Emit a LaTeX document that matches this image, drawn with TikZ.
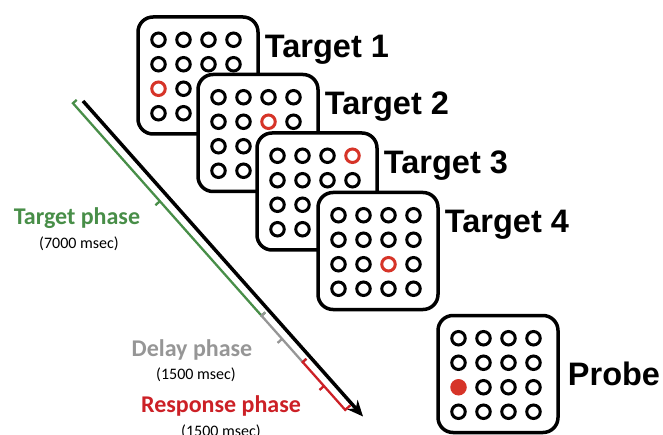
\documentclass[tikz,border=0pt]{standalone}
\usepackage{fontspec}
\setmainfont{Liberation Sans}
\newfontfamily\phasefont{Carlito}
\usetikzlibrary{arrows.meta,calc}
\definecolor{tgreen}{RGB}{72,142,72}
\definecolor{tgray}{RGB}{150,150,150}
\definecolor{tred}{RGB}{204,32,38}
\definecolor{dotred}{RGB}{214,52,40}
\tikzset{
  cardbox/.style={draw=black, fill=white, line width=3.5pt, rounded corners=15pt,
    minimum width=120pt, minimum height=117pt, inner sep=0pt},
  dot/.style={circle, draw=black, line width=3pt, minimum size=13.5pt, inner sep=0pt},
  reddot/.style={dot, draw=dotred},
  filldot/.style={circle, fill=dotred, minimum size=16.5pt, inner sep=0pt},
  cardlab/.style={anchor=base west, inner sep=0pt, font=\fontsize{32.5}{38}\selectfont\bfseries},
  phaselab/.style={inner sep=0pt, font=\phasefont\fontsize{24}{28}\selectfont\bfseries},
  msec/.style={inner sep=0pt, font=\phasefont\fontsize{16}{19}\selectfont},
  timeline/.style={draw=black, line width=3.5pt, -{Stealth[length=16pt,width=14pt]}},
  bracket/.style={line width=2.3pt, line join=miter}
}
% #1 name, #2 x, #3 y, #4 special column, #5 special row, #6 style of special dot
\newcommand{\cardgrid}[6]{%
  \node[cardbox] (#1) at (#2,#3) {};
  \foreach \i in {1,...,4}{%
    \foreach \j in {1,...,4}{%
      \pgfmathtruncatemacro{\isred}{(\i==#4)&&(\j==#5)}%
      \ifnum\isred=1
        \node[#6] (#1-\i-\j) at ($(#1.center)+({-2+(\i-2.5)*25},{1+(\j-2.5)*24.5})$) {};
      \else
        \node[dot] (#1-\i-\j) at ($(#1.center)+({-2+(\i-2.5)*25},{1+(\j-2.5)*24.5})$) {};
      \fi
    }%
  }%
}
\begin{document}
\begin{tikzpicture}[x=1pt,y=-1pt]
\useasboundingbox (0,0) rectangle (663,435);
\clip (0,0) rectangle (663,435);

% cards
\cardgrid{c1}{198}{75.5}{1}{3}{reddot}
\node[cardlab] (l1) at ($(c1.north east)+(5,42)$) {Target 1};
\cardgrid{c2}{258}{133}{3}{2}{reddot}
\node[cardlab] (l2) at ($(c2.north east)+(5,42)$) {Target 2};
\cardgrid{c3}{317}{191.5}{4}{1}{reddot}
\node[cardlab] (l3) at ($(c3.north east)+(5,42)$) {Target 3};
\cardgrid{c4}{378}{251}{3}{3}{reddot}
\node[cardlab] (l4) at ($(c4.north east)+(5,42)$) {Target 4};
\cardgrid{pr}{498}{374}{1}{3}{filldot}
\node[cardlab] (lp) at ($(pr.east)+(8,11.5)$) {Probe};

% timeline
\coordinate (tA) at (83,101);
\coordinate (tB) at (363,416.5);
\draw[timeline] (tA) -- (tB);

% green bracket
\coordinate (gs) at (72.95,103.24);
\coordinate (gsT) at (76.7,99.9);
\coordinate (ge) at (261.5,315.7);
\coordinate (geT) at (265.2,312.4);
\coordinate (gm) at (159.9,201.2);
\coordinate (gmT) at (155.4,205.2);
\draw[bracket, tgreen] (gsT) -- (gs) -- (ge) -- (geT);
\draw[bracket, tgreen] (gm) -- (gmT);

% gray bracket
\coordinate (ys) at (261.5,315.7);
\coordinate (ysT) at (265.2,312.4);
\coordinate (ye) at (302.7,362.1);
\coordinate (yeT) at (306.4,358.8);
\coordinate (ym) at (282.1,338.9);
\coordinate (ymT) at (277.6,342.9);
\draw[bracket, tgray] (ysT) -- (ys) -- (ye) -- (yeT);
\draw[bracket, tgray] (ym) -- (ymT);

% red bracket
\coordinate (rs) at (302.7,362.1);
\coordinate (rsT) at (306.4,358.8);
\coordinate (re) at (345.2,409.9);
\coordinate (reT) at (350.4,405.3);
\coordinate (rm) at (324.0,386.0);
\coordinate (rmT) at (319.5,390.0);
\draw[bracket, tred] (rsT) -- (rs) -- (re) -- (reT);
\draw[bracket, tred] (rm) -- (rmT);

% phase labels
\node[phaselab, text=tgreen] (gp) at (77,218) {Target phase};
\node[msec] (gt) at (79,244) {(7000 msec)};
\node[phaselab, text=tgray] (dp) at (192,350) {Delay phase};
\node[msec] (dt) at (196,375) {(1500 msec)};
\node[phaselab, text=tred] (rp) at (221,406) {Response phase};
\node[msec] (rt) at (221,432) {(1500 msec)};
\end{tikzpicture}
\end{document}
